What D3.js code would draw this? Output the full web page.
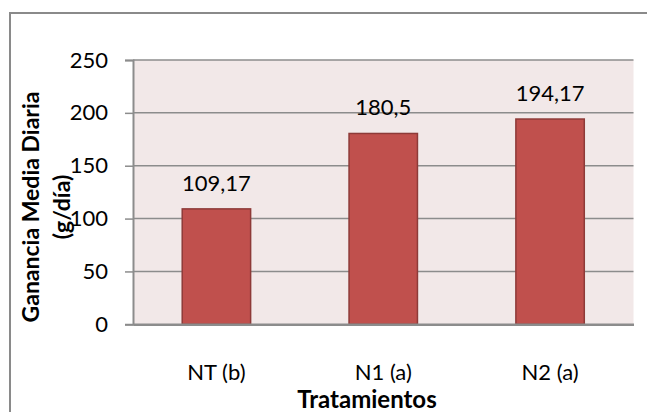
<!DOCTYPE html>
<html>
<head>
<meta charset="utf-8">
<script src="https://cdn.jsdelivr.net/npm/d3@7"></script>
<style>
  html, body { margin: 0; padding: 0; background: #ffffff; overflow: hidden; }
  svg { display: block; font-family: Lato, "Open Sans", sans-serif; }
</style>
</head>
<body>
<svg id="chart" width="647" height="412"></svg>
<script>
// Average daily gain per treatment
const categories = ["NT (b)", "N1 (a)", "N2 (a)"];
const values = [109.17, 180.5, 194.17];
const valueLabels = ["109,17", "180,5", "194,17"];
const yTicks = [0, 50, 100, 150, 200, 250];
const yTitleLines = ["Ganancia Media Diaria", "(g/día)"];
const xTitle = "Tratamientos";

const svg = d3.select("#chart");
const W = 647, H = 412;
const plot = { left: 133, right: 633.5, top: 60, bottom: 324.3 };

// Chart frame (left and top edges fall inside the view)
const frame = svg.append("g").attr("stroke", "#8a8a8a").attr("stroke-width", 2);
frame.append("line").attr("x1", 10).attr("x2", W).attr("y1", 13).attr("y2", 13);
frame.append("line").attr("x1", 10).attr("x2", 10).attr("y1", 12).attr("y2", H);

const x = d3.scaleBand()
  .domain(categories)
  .range([plot.left, plot.right])
  .paddingInner(0.59)
  .paddingOuter(0.295);

const y = d3.scaleLinear()
  .domain([0, 250])
  .range([plot.bottom, plot.top]);

// Plot area background
svg.append("rect")
  .attr("x", plot.left).attr("y", plot.top)
  .attr("width", plot.right - plot.left)
  .attr("height", plot.bottom - plot.top)
  .attr("fill", "#f2e8e8");

// Horizontal gridlines
svg.append("g")
  .selectAll("line")
  .data(yTicks.filter(d => d > 0))
  .join("line")
  .attr("x1", plot.left).attr("x2", plot.right)
  .attr("y1", d => y(d)).attr("y2", d => y(d))
  .attr("stroke", "#8c8c8c")
  .attr("stroke-width", 1.5);

// Bars
svg.append("g")
  .selectAll("rect")
  .data(values)
  .join("rect")
  .attr("x", (d, i) => x(categories[i]))
  .attr("y", d => y(d))
  .attr("width", x.bandwidth())
  .attr("height", d => y(0) - y(d))
  .attr("fill", "#c0504d")
  .attr("stroke", "#8e3a38")
  .attr("stroke-width", 1.5);

// Value labels
svg.append("g")
  .selectAll("text")
  .data(values)
  .join("text")
  .attr("x", (d, i) => x(categories[i]) + x.bandwidth() / 2)
  .attr("y", d => y(d) - 18)
  .attr("text-anchor", "middle")
  .attr("font-size", 22)
  .attr("fill", "#000")
  .text((d, i) => valueLabels[i]);

// Y axis
const yAxis = d3.axisLeft(y)
  .tickValues(yTicks)
  .tickSize(8)
  .tickPadding(17)
  .tickFormat(d3.format("d"));

const gy = svg.append("g")
  .attr("transform", `translate(${plot.left},0)`)
  .call(yAxis);
gy.select(".domain").attr("stroke", "#8c8c8c").attr("stroke-width", 2);
gy.selectAll(".tick line").attr("stroke", "#8c8c8c").attr("stroke-width", 1.5);
gy.selectAll(".tick text")
  .attr("font-size", 22)
  .attr("font-family", "Lato, sans-serif")
  .attr("fill", "#000");

// X axis
const xAxis = d3.axisBottom(x).tickSize(0).tickPadding(40);
const gx = svg.append("g")
  .attr("transform", `translate(0,${plot.bottom})`)
  .call(xAxis);
gx.select(".domain").attr("stroke", "#8c8c8c").attr("stroke-width", 2.5);
gx.selectAll(".tick text")
  .attr("font-size", 22)
  .attr("font-family", "Lato, sans-serif")
  .attr("fill", "#000");

// Axis titles
svg.append("text")
  .attr("x", 367).attr("y", 408)
  .attr("text-anchor", "middle")
  .attr("font-size", 24)
  .attr("font-weight", "bold")
  .attr("fill", "#000")
  .text(xTitle);

const yTitle = svg.append("text")
  .attr("transform", "translate(39,207) rotate(-90)")
  .attr("text-anchor", "middle")
  .attr("font-size", 23)
  .attr("font-weight", "bold")
  .attr("fill", "#000");
yTitle.selectAll("tspan")
  .data(yTitleLines)
  .join("tspan")
  .attr("x", 0)
  .attr("dy", (d, i) => i === 0 ? 0 : 31)
  .text(d => d);
</script>
</body>
</html>
